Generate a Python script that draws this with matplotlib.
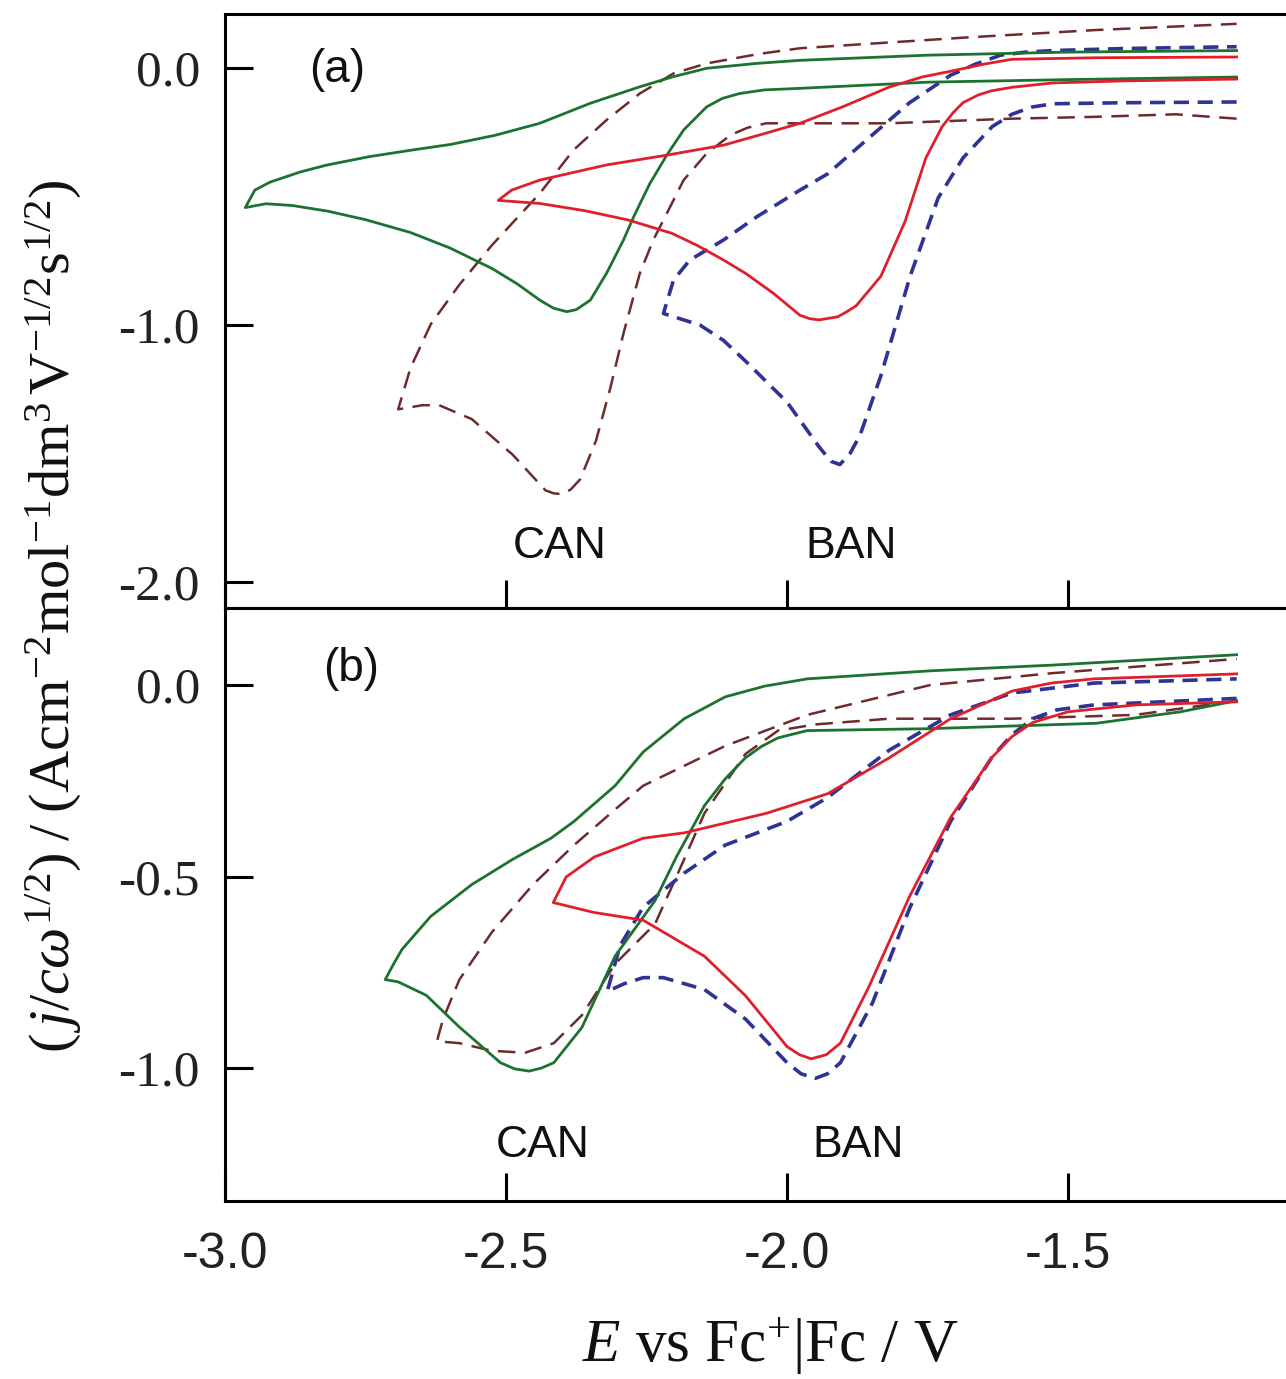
import matplotlib
matplotlib.use('Agg')
import matplotlib.pyplot as plt

# (a) CAN, solid green: forward sweep then reverse sweep
e_can_a_solid = [-1.20, -1.50, -1.75, -1.977, -2.04, -2.084, -2.115, -2.143, -2.184, -2.214, -2.244, -2.273, -2.291,
                 -2.321, -2.35, -2.375, -2.392, -2.416, -2.44, -2.48, -2.525, -2.60, -2.67, -2.75, -2.817, -2.88,
                 -2.927, -2.964,
                 -2.947, -2.92, -2.867, -2.82, -2.744, -2.67, -2.598, -2.52, -2.44, -2.35, -2.262, -2.203, -2.143,
                 -2.054, -1.977, -1.75, -1.50, -1.20]
j_can_a_solid = [-0.035, -0.045, -0.055, -0.079, -0.085, -0.099, -0.118, -0.151, -0.241, -0.339, -0.449, -0.579, -0.669,
                 -0.798, -0.903, -0.94, -0.948, -0.934, -0.903, -0.84, -0.78, -0.70, -0.64, -0.59, -0.557, -0.535,
                 -0.528, -0.543,
                 -0.475, -0.444, -0.405, -0.378, -0.345, -0.32, -0.297, -0.262, -0.215, -0.137, -0.073, -0.034, -0.001,
                 0.018, 0.03, 0.05, 0.062, 0.068]

# (a) BAN, solid red
e_ban_a_solid = [-1.20, -1.40, -1.527, -1.60, -1.637, -1.66, -1.687, -1.705, -1.724, -1.753, -1.79, -1.833, -1.877,
                 -1.895, -1.91, -1.943, -1.96, -1.977, -2.024, -2.073, -2.113, -2.16, -2.205, -2.283, -2.36, -2.44,
                 -2.514,
                 -2.49, -2.44, -2.321, -2.214, -2.113, -2.04, -1.977, -1.90, -1.818, -1.76, -1.708, -1.65, -1.60,
                 -1.45, -1.20]
j_ban_a_solid = [-0.043, -0.050, -0.058, -0.075, -0.089, -0.105, -0.135, -0.175, -0.228, -0.35, -0.597, -0.81, -0.925,
                 -0.95, -0.968, -0.98, -0.975, -0.962, -0.877, -0.80, -0.747, -0.69, -0.643, -0.591, -0.555, -0.527,
                 -0.515,
                 -0.475, -0.436, -0.377, -0.339, -0.30, -0.255, -0.215, -0.15, -0.074, -0.035, -0.012, 0.015, 0.034,
                 0.040, 0.043]

# (a) BAN, dashed blue
e_ban_a_dash = [-1.20, -1.40, -1.527, -1.565, -1.60, -1.635, -1.687, -1.731, -1.781, -1.833, -1.87, -1.888, -1.906,
                -1.922, -1.943, -2.0, -2.074, -2.113, -2.155, -2.22,
                -2.202, -2.173, -2.113, -2.054, -1.977, -1.928, -1.855, -1.782, -1.709, -1.665, -1.62, -1.575,
                -1.527, -1.40, -1.20]
j_ban_a_dash = [-0.132, -0.135, -0.139, -0.152, -0.18, -0.228, -0.35, -0.505, -0.81, -1.197, -1.428, -1.50, -1.543,
                -1.53, -1.474, -1.30, -1.14, -1.06, -1.0, -0.955,
                -0.825, -0.747, -0.669, -0.579, -0.475, -0.412, -0.273, -0.135, -0.028, 0.015, 0.05, 0.062,
                0.068, 0.076, 0.083]

# (a) CAN, dashed brown
e_can_a_dash = [-1.20, -1.308, -1.454, -1.60, -1.818, -2.037, -2.07, -2.10, -2.143, -2.184, -2.214, -2.238, -2.262,
                -2.291, -2.315, -2.34, -2.368, -2.385, -2.40, -2.415, -2.43, -2.488, -2.561, -2.619, -2.649, -2.692,
                -2.67, -2.634, -2.583, -2.525, -2.44, -2.38, -2.321, -2.262, -2.202, -2.143, -2.05, -1.977, -1.673,
                -1.45, -1.20]
j_can_a_dash = [-0.197, -0.18, -0.19, -0.197, -0.215, -0.215, -0.232, -0.26, -0.332, -0.436, -0.566, -0.669, -0.799,
                -1.032, -1.25, -1.45, -1.60, -1.64, -1.658, -1.655, -1.643, -1.505, -1.366, -1.312, -1.312, -1.328,
                -1.167, -0.997, -0.843, -0.689, -0.488, -0.319, -0.202, -0.099, -0.021, 0.018, 0.055, 0.077, 0.12,
                0.148, 0.172]

# (b) CAN, solid green
e_can_b_solid = [-1.20, -1.30, -1.45, -1.745, -1.964, -2.016, -2.045, -2.074, -2.11, -2.147, -2.197, -2.235, -2.306,
                 -2.365, -2.415, -2.437, -2.459, -2.485, -2.51, -2.583, -2.642, -2.692, -2.715,
                 -2.70, -2.685, -2.634, -2.561, -2.488, -2.42, -2.379, -2.306, -2.256, -2.183, -2.11, -2.04, -1.964,
                 -1.745, -1.527, -1.20]
j_can_b_solid = [-0.041, -0.07, -0.10, -0.114, -0.119, -0.138, -0.16, -0.19, -0.245, -0.315, -0.449, -0.563, -0.708,
                 -0.894, -0.986, -1.0, -1.008, -1.002, -0.986, -0.893, -0.81, -0.775, -0.769,
                 -0.728, -0.69, -0.604, -0.521, -0.455, -0.40, -0.356, -0.263, -0.175, -0.088, -0.031, -0.003, 0.016,
                 0.037, 0.052, 0.079]

# (b) BAN, solid red
e_ban_b_solid = [-1.20, -1.38, -1.50, -1.563, -1.60, -1.636, -1.709, -1.782, -1.855, -1.905, -1.93, -1.957, -1.978,
                 -2.0, -2.074, -2.147, -2.256, -2.343, -2.416,
                 -2.393, -2.343, -2.256, -2.183, -2.037, -1.928, -1.818, -1.709, -1.60, -1.53, -1.454, -1.20]
j_ban_b_solid = [-0.044, -0.052, -0.07, -0.098, -0.135, -0.19, -0.346, -0.552, -0.79, -0.935, -0.965, -0.976, -0.965,
                 -0.944, -0.811, -0.708, -0.614, -0.594, -0.568,
                 -0.501, -0.449, -0.40, -0.386, -0.335, -0.284, -0.19, -0.088, -0.016, 0.005, 0.016, 0.029]

# (b) BAN, dashed blue
e_ban_b_dash = [-1.20, -1.454, -1.52, -1.563, -1.60, -1.636, -1.709, -1.782, -1.848, -1.905, -1.928, -1.95, -1.975,
                -2.0, -2.074, -2.147, -2.22, -2.256, -2.29, -2.32,
                -2.297, -2.256, -2.183, -2.11, -2.0, -1.928, -1.818, -1.709, -1.60, -1.454, -1.20]
j_ban_b_dash = [-0.035, -0.052, -0.065, -0.088, -0.13, -0.19, -0.356, -0.583, -0.83, -0.986, -1.015, -1.027, -1.015,
                -0.986, -0.872, -0.795, -0.764, -0.764, -0.78, -0.80,
                -0.68, -0.58, -0.491, -0.418, -0.356, -0.294, -0.17, -0.078, -0.021, 0.005, 0.016]

# (b) CAN, dashed brown
e_can_b_dash = [-1.20, -1.38, -1.60, -1.818, -1.95, -2.016, -2.074, -2.147, -2.197, -2.235, -2.306, -2.365, -2.415,
                -2.466, -2.525, -2.583, -2.623,
                -2.612, -2.583, -2.525, -2.452, -2.379, -2.306, -2.256, -2.183, -2.11, -1.964, -1.745, -1.527,
                -1.20]
j_can_b_dash = [-0.041, -0.078, -0.088, -0.088, -0.103, -0.119, -0.18, -0.335, -0.501, -0.624, -0.728, -0.862, -0.935,
                -0.96, -0.955, -0.935, -0.93,
                -0.872, -0.769, -0.645, -0.521, -0.418, -0.325, -0.263, -0.211, -0.159, -0.078, 0.0, 0.031,
                0.068]

x_ticks = [-3.0, -2.5, -2.0, -1.5]
x_tick_labels = ['-3.0', '-2.5', '-2.0', '-1.5']
y_ticks_a = [0.0, -1.0, -2.0]
y_tick_labels_a = ['0.0', '-1.0', '-2.0']
y_ticks_b = [0.0, -0.5, -1.0]
y_tick_labels_b = ['0.0', '-0.5', '-1.0']

GREEN = '#1c7230'
RED = '#e01f2c'
BLUE = '#2d3494'
BROWN = '#6e2b2b'

plt.rcParams['axes.unicode_minus'] = False
plt.rcParams['mathtext.fontset'] = 'custom'
plt.rcParams['mathtext.rm'] = 'Liberation Serif'
plt.rcParams['mathtext.it'] = 'Liberation Serif:italic'
plt.rcParams['lines.solid_joinstyle'] = 'round'
plt.rcParams['lines.dash_joinstyle'] = 'round'


def style_axes(ax, yticks, ylabels, ylim, show_x):
    ax.set_xlim(-3.0, -1.087)
    ax.set_ylim(*ylim)
    ax.set_xticks(x_ticks)
    ax.set_yticks(yticks)
    ax.set_yticklabels(ylabels, family='Liberation Serif', fontsize=37, color='#222222')
    if show_x:
        ax.set_xticklabels(x_tick_labels, family='Liberation Sans', fontsize=36, color='#222222')
    else:
        ax.set_xticklabels([])
    ax.tick_params(axis='both', direction='in', length=20, width=2.2, top=False, right=False)
    ax.tick_params(axis='y', pad=18)
    ax.tick_params(axis='x', pad=22)
    for s in ax.spines.values():
        s.set_linewidth(2.2)


def draw_panel(ax, e_solid_can, j_solid_can, e_dash_can, j_dash_can,
               e_solid_ban, j_solid_ban, e_dash_ban, j_dash_ban):
    ax.plot(e_dash_can, j_dash_can, color=BROWN, lw=1.8, ls=(0, (7, 3.8)))
    ax.plot(e_dash_ban, j_dash_ban, color=BLUE, lw=2.6, ls=(0, (4.2, 2.4)))
    ax.plot(e_solid_can, j_solid_can, color=GREEN, lw=2.0)
    ax.plot(e_solid_ban, j_solid_ban, color=RED, lw=2.0)


fig = plt.figure(figsize=(12.86, 13.79), dpi=100)
ax_a = fig.add_axes([0.175, 0.5591, 0.836, 0.4307])
ax_b = fig.add_axes([0.175, 0.1291, 0.836, 0.4300])

draw_panel(ax_a, e_can_a_solid, j_can_a_solid, e_can_a_dash, j_can_a_dash,
           e_ban_a_solid, j_ban_a_solid, e_ban_a_dash, j_ban_a_dash)
draw_panel(ax_b, e_can_b_solid, j_can_b_solid, e_can_b_dash, j_can_b_dash,
           e_ban_b_solid, j_ban_b_solid, e_ban_b_dash, j_ban_b_dash)

style_axes(ax_a, y_ticks_a, y_tick_labels_a, (-2.101, 0.210), False)
style_axes(ax_b, y_ticks_b, y_tick_labels_b, (-1.347, 0.201), True)

sans = dict(family='Liberation Sans', ha='center', va='center', color='#111111')
ax_a.text(-2.80, -0.008, '(a)', fontsize=33, **sans)
ax_a.text(-2.404, -1.86, 'CAN', fontsize=32, **sans)
ax_a.text(-1.886, -1.86, 'BAN', fontsize=32, **sans)
ax_b.text(-2.776, 0.042, '(b)', fontsize=33, **sans)
ax_b.text(-2.434, -1.203, 'CAN', fontsize=32, **sans)
ax_b.text(-1.874, -1.203, 'BAN', fontsize=32, **sans)

fig.text(0.042, 0.553,
         r'$(\,j/c\omega^{1/2})\;/\;(\mathrm{Acm^{-2}mol^{-1}dm^{3}\,V^{-1/2}s^{1/2}})$',
         rotation=90, ha='center', va='center', fontsize=42, family='Liberation Serif', color='#111111')
fig.text(0.599, 0.0236, r'$E$ vs Fc$^{+}$|Fc / V',
         ha='center', va='center', fontsize=44, family='Liberation Serif', color='#111111')

fig.savefig('out.png', dpi=100, facecolor='white')
